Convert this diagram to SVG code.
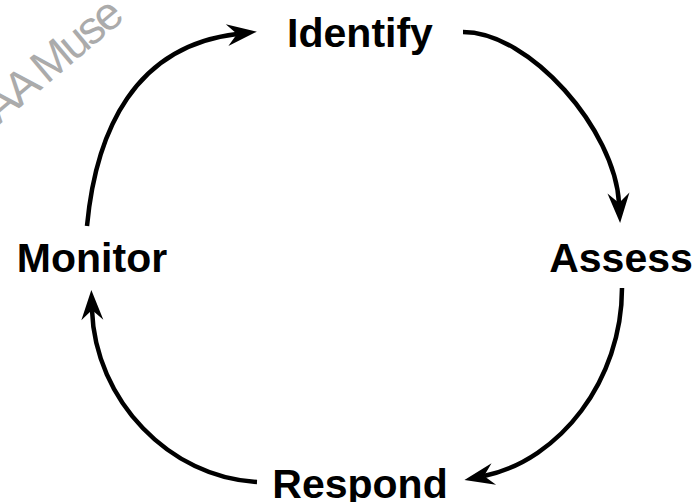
<svg xmlns="http://www.w3.org/2000/svg" width="695" height="502" viewBox="0 0 695 502">
<style>
.lbl{font-family:"Liberation Sans",Arial,sans-serif;font-weight:bold;font-size:41px;fill:#000;text-anchor:middle}
.wm{font-family:"Liberation Sans",Arial,sans-serif;font-size:46px;letter-spacing:-3px;fill:#ababab}
.arc{fill:none;stroke:#000;stroke-width:4.5;stroke-linecap:butt;marker-end:url(#ah)}
</style>
<defs>
<marker id="ah" markerUnits="userSpaceOnUse" markerWidth="40" markerHeight="30" refX="10" refY="15" orient="auto" overflow="visible">
<path d="M30,15 L0,4 L10,15 L0,26 Z" fill="#000"/>
</marker>
</defs>
<rect width="695" height="502" fill="#fff"/>
<text class="wm" transform="translate(-1,125) rotate(-40)">AA Muse</text>
<g id="connectors">
<path class="arc" d="M87,226 C96,130 135,46 237,34"/>
<path class="arc" d="M463,32 C530,32 615,130 619,203"/>
<path class="arc" d="M622,288 C622,380 560,460 484,476"/>
<path class="arc" d="M257,482 C170,478 95,400 92,310"/>
</g>
<g id="node-identify"><text class="lbl" x="360" y="47">Identify</text></g>
<g id="node-assess"><text class="lbl" x="621" y="272">Assess</text></g>
<g id="node-respond"><text class="lbl" x="360" y="498">Respond</text></g>
<g id="node-monitor"><text class="lbl" x="92" y="272">Monitor</text></g>
</svg>
